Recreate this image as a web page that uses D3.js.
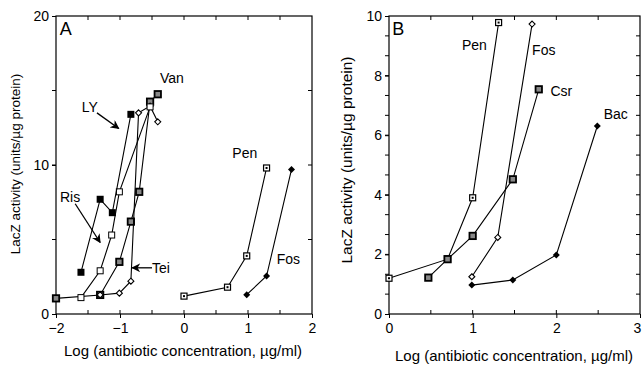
<!DOCTYPE html>
<html>
<head>
<meta charset="utf-8">
<script src="https://cdn.jsdelivr.net/npm/d3@7"></script>
<style>
  body { margin: 0; background: #fff; }
  text { font-family: "Liberation Sans", Arial, sans-serif; fill: #000; }
</style>
</head>
<body>
<div id="chart"></div>
<script>
// panel A data (log conc vs units/ug protein)
var lyX = [-1.61, -1.31, -1.12, -0.83];
var lyY = [2.8, 7.7, 6.8, 13.4];
var risX = [-1.61, -1.31, -1.13, -1.01, -0.53];
var risY = [1.1, 2.9, 5.3, 8.2, 13.9];
var vanX = [-2.0, -1.31, -1.01, -0.83, -0.70, -0.53, -0.41];
var vanY = [1.05, 1.28, 3.5, 6.2, 8.2, 14.25, 14.75];
var teiX = [-1.31, -1.01, -0.83, -0.71, -0.53, -0.41];
var teiY = [1.28, 1.4, 2.2, 13.5, 13.95, 12.9];
var penAX = [0.0, 0.68, 0.98, 1.29];
var penAY = [1.2, 1.8, 3.9, 9.8];
var fosAX = [0.98, 1.29, 1.68];
var fosAY = [1.3, 2.55, 9.7];

// panel B data
var penBX = [0.0, 0.70, 1.0, 1.31];
var penBY = [1.2, 1.84, 3.9, 9.78];
var fosBX = [0.99, 1.30, 1.71];
var fosBY = [1.25, 2.57, 9.73];
var csrX = [0.47, 0.70, 1.0, 1.48, 1.79];
var csrY = [1.22, 1.84, 2.62, 4.52, 7.54];
var bacX = [0.99, 1.48, 2.0, 2.49];
var bacY = [0.97, 1.14, 1.98, 6.31];

// tick labels
var aXTicks = [-2, -1, 0, 1, 2];
var aYTicks = [0, 10, 20];
var bXTicks = [0, 1, 2, 3];
var bYTicks = [0, 2, 4, 6, 8, 10];

var xTitle = "Log (antibiotic concentration, \u00b5g/ml)";

var svg = d3.select("#chart").append("svg")
  .attr("width", 642).attr("height", 365);
svg.append("rect").attr("width", 642).attr("height", 365).attr("fill", "#fff");

var defs = svg.append("defs");
defs.append("marker")
  .attr("id", "arrow")
  .attr("viewBox", "0 0 10 10")
  .attr("refX", 9).attr("refY", 5)
  .attr("markerWidth", 9).attr("markerHeight", 9)
  .attr("markerUnits", "userSpaceOnUse")
  .attr("orient", "auto")
  .append("path").attr("d", "M0,0 L10,5 L0,10 L3,5 Z").attr("fill", "#000");

function zip(xs, ys) {
  return xs.map(function(x, i) { return {x: x, y: ys[i]}; });
}

// draw one panel frame with ticks
function panel(opt) {
  var g = svg.append("g");
  var x = d3.scaleLinear().domain(opt.xDomain).range(opt.xRange);
  var y = d3.scaleLinear().domain(opt.yDomain).range(opt.yRange);

  // bottom axis
  g.append("g").attr("transform", "translate(0," + opt.yRange[0] + ")")
    .call(d3.axisBottom(x).tickValues(opt.xTicks).tickSize(4).tickPadding(5).tickFormat(d3.format("d")))
    .call(function(a) {
      a.select(".domain").remove();
      a.selectAll("text").attr("font-size", 14).attr("font-family", "Liberation Sans, Arial, sans-serif");
    });
  // left axis
  g.append("g").attr("transform", "translate(" + opt.xRange[0] + ",0)")
    .call(d3.axisLeft(y).tickValues(opt.yTicks).tickSize(4).tickPadding(3).tickFormat(d3.format("d")))
    .call(function(a) {
      a.select(".domain").remove();
      a.selectAll("text").attr("font-size", 14).attr("font-family", "Liberation Sans, Arial, sans-serif");
    });

  // minor inner ticks
  var x0 = opt.xRange[0], x1 = opt.xRange[1], y0 = opt.yRange[0], y1 = opt.yRange[1];
  opt.xMinor.forEach(function(v) {
    g.append("line").attr("x1", x(v)).attr("x2", x(v)).attr("y1", y0).attr("y2", y0 - 4).attr("stroke", "#000");
    g.append("line").attr("x1", x(v)).attr("x2", x(v)).attr("y1", y1).attr("y2", y1 + 4).attr("stroke", "#000");
  });
  opt.yMinor.forEach(function(v) {
    g.append("line").attr("x1", x0).attr("x2", x0 - 4).attr("y1", y(v)).attr("y2", y(v)).attr("stroke", "#000");
    g.append("line").attr("x1", x1).attr("x2", x1 - 4).attr("y1", y(v)).attr("y2", y(v)).attr("stroke", "#000");
  });

  g.append("rect")
    .attr("x", x0).attr("y", y1).attr("width", x1 - x0).attr("height", y0 - y1)
    .attr("fill", "none").attr("stroke", "#000").attr("stroke-width", 1.2);

  return {g: g, x: x, y: y};
}

var line = function(p) {
  return d3.line().x(function(d) { return p.x(d.x); }).y(function(d) { return p.y(d.y); });
};

function series(p, xs, ys, kind) {
  var pts = zip(xs, ys);
  p.g.append("path").datum(pts).attr("d", line(p))
    .attr("fill", "none").attr("stroke", "#000").attr("stroke-width", 1.1);
  var m = p.g.selectAll(null).data(pts).enter().append("g")
    .attr("transform", function(d) { return "translate(" + p.x(d.x) + "," + p.y(d.y) + ")"; });
  if (kind === "filled") {
    m.append("rect").attr("x", -3.5).attr("y", -3.5).attr("width", 7).attr("height", 7).attr("fill", "#000");
  } else if (kind === "open") {
    m.append("rect").attr("x", -3).attr("y", -3).attr("width", 6).attr("height", 6)
      .attr("fill", "#fff").attr("stroke", "#000").attr("stroke-width", 1);
  } else if (kind === "dot") {
    m.append("rect").attr("x", -3).attr("y", -3).attr("width", 6).attr("height", 6)
      .attr("fill", "#fff").attr("stroke", "#000").attr("stroke-width", 1.2);
    m.append("rect").attr("x", -1).attr("y", -1).attr("width", 2).attr("height", 2).attr("fill", "#000");
  } else if (kind === "dark") {
    m.append("rect").attr("x", -3.2).attr("y", -3.2).attr("width", 6.4).attr("height", 6.4)
      .attr("fill", "#888").attr("stroke", "#000").attr("stroke-width", 1.8);
  } else if (kind === "diamond") {
    m.append("path").attr("d", "M0,-3 L3,0 L0,3 L-3,0 Z")
      .attr("fill", "#fff").attr("stroke", "#000").attr("stroke-width", 1.1);
  } else if (kind === "fdiamond") {
    m.append("path").attr("d", "M0,-3.5 L3.5,0 L0,3.5 L-3.5,0 Z").attr("fill", "#000");
  }
}

function label(p, txt, xv, yv, size, anchor) {
  p.g.append("text").attr("x", p.x(xv)).attr("y", p.y(yv))
    .attr("font-size", size || 14).attr("text-anchor", anchor || "middle").text(txt);
}

function arrow(p, xa, ya, xb, yb) {
  p.g.append("line")
    .attr("x1", p.x(xa)).attr("y1", p.y(ya)).attr("x2", p.x(xb)).attr("y2", p.y(yb))
    .attr("stroke", "#000").attr("stroke-width", 1.3).attr("marker-end", "url(#arrow)");
}

// ---- Panel A
var pA = panel({
  xDomain: [-2, 2], xRange: [56, 312],
  yDomain: [0, 20], yRange: [314, 16],
  xTicks: aXTicks, yTicks: aYTicks,
  xMinor: [-1.5, -1, -0.5, 0, 0.5, 1, 1.5],
  yMinor: [5, 10, 15]
});
series(pA, vanX, vanY, "dark");
series(pA, teiX, teiY, "diamond");
series(pA, risX, risY, "open");
series(pA, lyX, lyY, "filled");
series(pA, penAX, penAY, "dot");
series(pA, fosAX, fosAY, "fdiamond");

label(pA, "A", -1.94, 18.75, 18, "start");
label(pA, "Van", -0.19, 15.5);
label(pA, "LY", -1.47, 13.55);
label(pA, "Ris", -1.78, 7.5);
label(pA, "Tei", -0.5, 2.75, 14, "start");
label(pA, "Pen", 0.95, 10.5);
label(pA, "Fos", 1.63, 3.35);
arrow(pA, -1.36, 13.5, -1.02, 12.45);
arrow(pA, -1.70, 7.4, -1.31, 4.8);
arrow(pA, -0.5, 3.1, -0.81, 3.1);

svg.append("text")
  .attr("transform", "translate(20,164) rotate(-90)")
  .attr("text-anchor", "middle").attr("font-size", 13.5)
  .text("LacZ activity (units/\u00b5g protein)");
svg.append("text").attr("x", 183).attr("y", 356)
  .attr("text-anchor", "middle").attr("font-size", 15).text(xTitle);

// ---- Panel B
var pB = panel({
  xDomain: [0, 3], xRange: [389, 640],
  yDomain: [0, 10], yRange: [314, 16],
  xTicks: bXTicks, yTicks: bYTicks,
  xMinor: [0.5, 1, 1.5, 2, 2.5],
  yMinor: d3.range(1, 30).map(function(i) { return i * 2 / 3; }).filter(function(v) { return v < 10; })
});
// keep the last x label inside the page
pB.g.selectAll(".tick text").filter(function(d) { return d === 3; }).attr("dx", -3);

series(pB, penBX, penBY, "dot");
series(pB, fosBX, fosBY, "diamond");
series(pB, csrX, csrY, "dark");
series(pB, bacX, bacY, "fdiamond");

label(pB, "B", 0.04, 9.35, 18, "start");
label(pB, "Pen", 1.02, 8.85);
label(pB, "Fos", 1.85, 8.7);
label(pB, "Csr", 2.06, 7.33);
label(pB, "Bac", 2.71, 6.54);

svg.append("text")
  .attr("transform", "translate(352,160) rotate(-90)")
  .attr("text-anchor", "middle").attr("font-size", 15.5)
  .text("LacZ activity  (units/\u00b5g protein)");
svg.append("text").attr("x", 514).attr("y", 361)
  .attr("text-anchor", "middle").attr("font-size", 15).text(xTitle);
</script>
</body>
</html>
